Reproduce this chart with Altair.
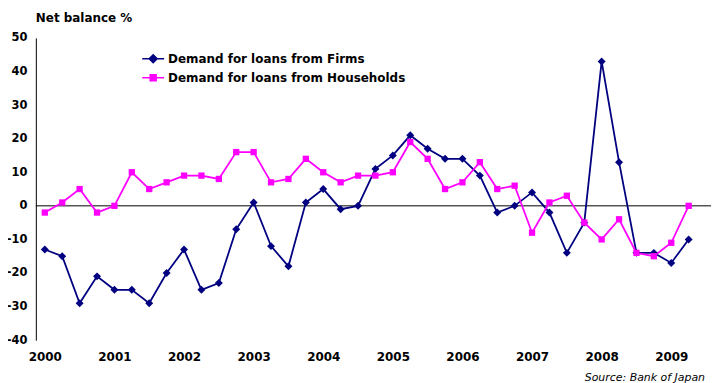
import altair as alt
import pandas as pd

FONT = "DejaVu Sans"

series_names = ["Demand for loans from Firms", "Demand for loans from Households"]
series_colors = ["#000080", "#FF00FF"]

periods = [f"{y}Q{q}" for y in range(2000, 2010) for q in range(1, 5)][:38]

firms = [-13, -15, -29, -21, -25, -25, -29, -20, -13, -25, -23, -7,
         1, -12, -18, 1, 5, -1, 0, 11, 15, 21, 17, 14,
         14, 9, -2, 0, 4, -2, -14, -5, 43, 13, -14, -14, -17, -10]
households = [-2, 1, 5, -2, 0, 10, 5, 7, 9, 9, 8, 16,
              16, 7, 8, 14, 10, 7, 9, 9, 10, 19, 14, 5,
              7, 13, 5, 6, -8, 1, 3, -5, -10, -4, -14, -15, -11, 0]

year_ticks = list(range(2000, 2010))
y_ticks = list(range(-40, 51, 10))

rows = []
for name, vals in zip(series_names, [firms, households]):
    for p, v in zip(periods, vals):
        y, q = int(p[:4]), int(p[5])
        rows.append({"series": name, "t": y + (q - 1) / 4, "v": v})
df = pd.DataFrame(rows)

x_scale = alt.Scale(domain=[1999.871, 2009.571], nice=False, zero=False)
y_scale = alt.Scale(domain=[-40, 50], nice=False)
x_axis = alt.Axis(values=year_ticks, format="d", title=None, grid=False,
                  domain=False, ticks=False, tickSize=0, labelPadding=11,
                  labelFont=FONT, labelFontSize=12, labelFontWeight="bold",
                  labelColor="black", labelOverlap=False)
y_axis = alt.Axis(values=y_ticks, title=None, grid=False, ticks=False,
                  tickSize=0, domainColor="black", domainWidth=1,
                  labelPadding=9, labelFont=FONT, labelFontSize=11.5,
                  labelFontWeight="bold", labelColor="black",
                  labelOverlap=False, labelFlush=False,
                  labelExpr="'' + datum.value")
x_enc = alt.X("t:Q", scale=x_scale, axis=x_axis)
y_enc = alt.Y("v:Q", scale=y_scale, axis=y_axis)

color_scale = alt.Scale(domain=series_names, range=series_colors)

legend = alt.Legend(title=None, orient="none", legendX=112, legendY=15,
                    direction="vertical", labelFont=FONT, labelFontSize=12,
                    labelFontWeight="bold", labelColor="black", symbolSize=100,
                    labelOffset=9, rowPadding=6, padding=0, labelLimit=500,
                    symbolStrokeWidth=1.5, symbolOpacity=1)

legend_shapes = ["M-2.2,0L2.2,0M-0.8,0L0,-0.8L0.8,0L0,0.8Z",
                 "M-2.2,0L2.2,0M-0.6,-0.6L0.6,-0.6L0.6,0.6L-0.6,0.6Z"]

base = alt.Chart(df)

legend_layer = base.mark_point(filled=True, opacity=0).encode(
    x=x_enc, y=y_enc,
    color=alt.Color("series:N", scale=color_scale, legend=legend),
    stroke=alt.Stroke("series:N", scale=color_scale, legend=legend),
    shape=alt.Shape("series:N",
                    scale=alt.Scale(domain=series_names, range=legend_shapes),
                    legend=legend),
)

lines = base.mark_line(strokeWidth=1.8).encode(
    x=x_enc, y=y_enc,
    color=alt.Color("series:N", scale=color_scale, legend=None),
    order="t:Q"
)

zero = alt.Chart(pd.DataFrame({"z": [0]})).mark_rule(color="black", strokeWidth=1).encode(
    y=alt.Y("z:Q", scale=y_scale, axis=y_axis)
)

firm_points = base.transform_filter(
    alt.datum.series == series_names[0]
).mark_point(filled=True, opacity=1, shape="diamond", size=64).encode(
    x=x_enc, y=y_enc,
    color=alt.Color("series:N", scale=color_scale, legend=None),
)

house_points = base.transform_filter(
    alt.datum.series == series_names[1]
).mark_point(filled=True, opacity=1, shape="square", size=40).encode(
    x=x_enc, y=y_enc,
    color=alt.Color("series:N", scale=color_scale, legend=None),
)

title_text = alt.Chart(pd.DataFrame({"label": ["Net balance %"]})).mark_text(
    font=FONT, fontSize=12, fontWeight="bold", color="black",
    align="left", baseline="alphabetic"
).encode(text="label:N", x=alt.value(0), y=alt.value(-16))

source_text = alt.Chart(pd.DataFrame({"label": ["Source: Bank of Japan"]})).mark_text(
    font=FONT, fontSize=11, fontStyle="italic", color="black",
    align="right", baseline="alphabetic"
).encode(text="label:N", x=alt.value(673), y=alt.value(345))

chart = alt.layer(legend_layer, zero, lines, firm_points, house_points,
                  title_text, source_text).properties(
    width=679, height=304,
    autosize=alt.AutoSizeParams(type="none"),
    padding={"left": 28, "top": 29, "right": 0, "bottom": 44},
    background="white",
).configure_view(stroke=None).configure_axisY(labelOverlap=False)

chart.save("out.html", embed_options={"renderer": "svg", "actions": False})
